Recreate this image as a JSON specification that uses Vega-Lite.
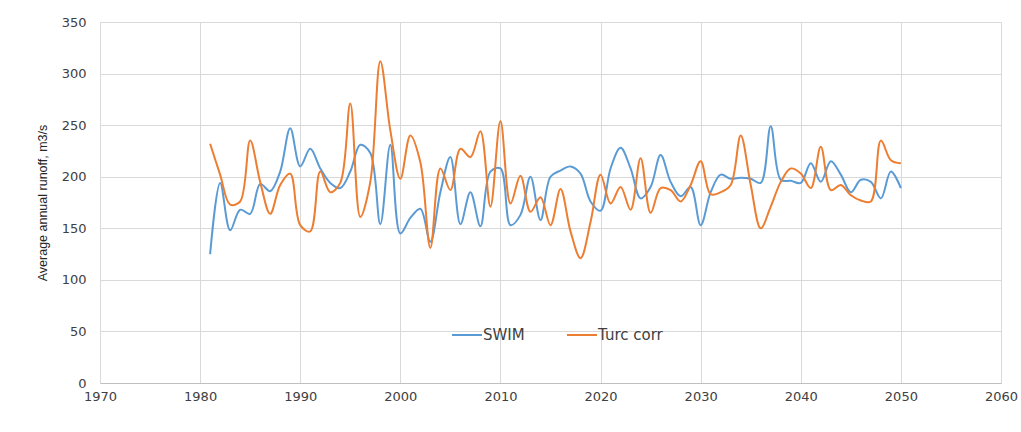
{
  "$schema": "https://vega.github.io/schema/vega-lite/v6.json",
  "width": 901,
  "height": 361,
  "autosize": {"type": "none"},
  "padding": {"left": 100, "top": 22, "right": 20, "bottom": 49},
  "background": "white",
  "config": {
    "view": {"stroke": null},
    "font": "DejaVu Sans"
  },
  "data": {
    "values": [
      {"year":1981,"series":"SWIM","value":125},{"year":1982,"series":"SWIM","value":194},{"year":1983,"series":"SWIM","value":148},{"year":1984,"series":"SWIM","value":168},{"year":1985,"series":"SWIM","value":164},{"year":1986,"series":"SWIM","value":193},{"year":1987,"series":"SWIM","value":186},{"year":1988,"series":"SWIM","value":205},{"year":1989,"series":"SWIM","value":247},{"year":1990,"series":"SWIM","value":210},
      {"year":1991,"series":"SWIM","value":227},{"year":1992,"series":"SWIM","value":208},{"year":1993,"series":"SWIM","value":194},{"year":1994,"series":"SWIM","value":189},{"year":1995,"series":"SWIM","value":205},{"year":1996,"series":"SWIM","value":231},{"year":1997,"series":"SWIM","value":223},{"year":1998,"series":"SWIM","value":154},{"year":1999,"series":"SWIM","value":231},{"year":2000,"series":"SWIM","value":145},
      {"year":2001,"series":"SWIM","value":160},{"year":2002,"series":"SWIM","value":169},{"year":2003,"series":"SWIM","value":137},{"year":2004,"series":"SWIM","value":185},{"year":2005,"series":"SWIM","value":219},{"year":2006,"series":"SWIM","value":154},{"year":2007,"series":"SWIM","value":185},{"year":2008,"series":"SWIM","value":152},{"year":2009,"series":"SWIM","value":205},{"year":2010,"series":"SWIM","value":208},
      {"year":2011,"series":"SWIM","value":153},{"year":2012,"series":"SWIM","value":163},{"year":2013,"series":"SWIM","value":200},{"year":2014,"series":"SWIM","value":158},{"year":2015,"series":"SWIM","value":200},{"year":2016,"series":"SWIM","value":206},{"year":2017,"series":"SWIM","value":210},{"year":2018,"series":"SWIM","value":203},{"year":2019,"series":"SWIM","value":176},{"year":2020,"series":"SWIM","value":167},
      {"year":2021,"series":"SWIM","value":208},{"year":2022,"series":"SWIM","value":228},{"year":2023,"series":"SWIM","value":208},{"year":2024,"series":"SWIM","value":179},{"year":2025,"series":"SWIM","value":190},{"year":2026,"series":"SWIM","value":221},{"year":2027,"series":"SWIM","value":195},{"year":2028,"series":"SWIM","value":181},{"year":2029,"series":"SWIM","value":190},{"year":2030,"series":"SWIM","value":153},
      {"year":2031,"series":"SWIM","value":185},{"year":2032,"series":"SWIM","value":202},{"year":2033,"series":"SWIM","value":198},{"year":2034,"series":"SWIM","value":199},{"year":2035,"series":"SWIM","value":198},{"year":2036,"series":"SWIM","value":194},{"year":2037,"series":"SWIM","value":249},{"year":2038,"series":"SWIM","value":197},{"year":2039,"series":"SWIM","value":196},{"year":2040,"series":"SWIM","value":194},
      {"year":2041,"series":"SWIM","value":213},{"year":2042,"series":"SWIM","value":195},{"year":2043,"series":"SWIM","value":215},{"year":2044,"series":"SWIM","value":202},{"year":2045,"series":"SWIM","value":185},{"year":2046,"series":"SWIM","value":197},{"year":2047,"series":"SWIM","value":195},{"year":2048,"series":"SWIM","value":179},{"year":2049,"series":"SWIM","value":205},{"year":2050,"series":"SWIM","value":189},
      {"year":1981,"series":"Turc corr","value":232},{"year":1982,"series":"Turc corr","value":202},{"year":1983,"series":"Turc corr","value":173},{"year":1984,"series":"Turc corr","value":176},{"year":1985,"series":"Turc corr","value":235},{"year":1986,"series":"Turc corr","value":195},{"year":1987,"series":"Turc corr","value":164},{"year":1988,"series":"Turc corr","value":192},{"year":1989,"series":"Turc corr","value":203},{"year":1990,"series":"Turc corr","value":153},
      {"year":1991,"series":"Turc corr","value":147},{"year":1992,"series":"Turc corr","value":205},{"year":1993,"series":"Turc corr","value":185},{"year":1994,"series":"Turc corr","value":194},{"year":1995,"series":"Turc corr","value":271},{"year":1996,"series":"Turc corr","value":161},{"year":1997,"series":"Turc corr","value":195},{"year":1998,"series":"Turc corr","value":312},{"year":1999,"series":"Turc corr","value":245},{"year":2000,"series":"Turc corr","value":198},
      {"year":2001,"series":"Turc corr","value":240},{"year":2002,"series":"Turc corr","value":214},{"year":2003,"series":"Turc corr","value":131},{"year":2004,"series":"Turc corr","value":208},{"year":2005,"series":"Turc corr","value":187},{"year":2006,"series":"Turc corr","value":227},{"year":2007,"series":"Turc corr","value":219},{"year":2008,"series":"Turc corr","value":244},{"year":2009,"series":"Turc corr","value":171},{"year":2010,"series":"Turc corr","value":254},
      {"year":2011,"series":"Turc corr","value":174},{"year":2012,"series":"Turc corr","value":201},{"year":2013,"series":"Turc corr","value":166},{"year":2014,"series":"Turc corr","value":180},{"year":2015,"series":"Turc corr","value":153},{"year":2016,"series":"Turc corr","value":188},{"year":2017,"series":"Turc corr","value":147},{"year":2018,"series":"Turc corr","value":121},{"year":2019,"series":"Turc corr","value":156},{"year":2020,"series":"Turc corr","value":202},
      {"year":2021,"series":"Turc corr","value":174},{"year":2022,"series":"Turc corr","value":190},{"year":2023,"series":"Turc corr","value":168},{"year":2024,"series":"Turc corr","value":218},{"year":2025,"series":"Turc corr","value":165},{"year":2026,"series":"Turc corr","value":189},{"year":2027,"series":"Turc corr","value":187},{"year":2028,"series":"Turc corr","value":176},{"year":2029,"series":"Turc corr","value":192},{"year":2030,"series":"Turc corr","value":215},
      {"year":2031,"series":"Turc corr","value":183},{"year":2032,"series":"Turc corr","value":185},{"year":2033,"series":"Turc corr","value":192},{"year":2034,"series":"Turc corr","value":240},{"year":2035,"series":"Turc corr","value":192},{"year":2036,"series":"Turc corr","value":150},{"year":2037,"series":"Turc corr","value":171},{"year":2038,"series":"Turc corr","value":195},{"year":2039,"series":"Turc corr","value":208},{"year":2040,"series":"Turc corr","value":203},
      {"year":2041,"series":"Turc corr","value":189},{"year":2042,"series":"Turc corr","value":229},{"year":2043,"series":"Turc corr","value":187},{"year":2044,"series":"Turc corr","value":192},{"year":2045,"series":"Turc corr","value":182},{"year":2046,"series":"Turc corr","value":177},{"year":2047,"series":"Turc corr","value":176},{"year":2048,"series":"Turc corr","value":235},{"year":2049,"series":"Turc corr","value":216},{"year":2050,"series":"Turc corr","value":213}
    ]
  },
  "mark": {"type": "line", "interpolate": "catmull-rom", "strokeWidth": 2},
  "encoding": {
    "x": {
      "field": "year", "type": "quantitative",
      "scale": {"domain": [1970, 2060], "nice": false, "zero": false},
      "axis": {
        "values": [1970,1980,1990,2000,2010,2020,2030,2040,2050,2060],
        "format": "d", "title": null,
        "grid": true, "gridColor": "#D9D9D9", "gridWidth": 1,
        "domainColor": "#BFBFBF", "ticks": false,
        "labelColor": "#404040", "labelFontSize": 13, "labelPadding": 7,
        "labelFlush": false
      }
    },
    "y": {
      "field": "value", "type": "quantitative",
      "scale": {"domain": [0, 350], "nice": false},
      "axis": {
        "values": [0,50,100,150,200,250,300,350],
        "title": "Average annual runoff, m3/s",
        "titleFont": "Liberation Sans",
        "titleFontWeight": "normal", "titleFontSize": 12.5, "titleColor": "#262626",
        "titlePadding": 12,
        "grid": true, "gridColor": "#D9D9D9", "gridWidth": 1,
        "domain": false, "ticks": false,
        "labelColor": "#404040", "labelFontSize": 13, "labelPadding": 14
      }
    },
    "color": {
      "field": "series", "type": "nominal",
      "scale": {"domain": ["SWIM", "Turc corr"], "range": ["#5B9BD5", "#ED7D31"]},
      "legend": {
        "title": null, "orient": "none", "direction": "horizontal",
        "legendX": 351, "legendY": 297,
        "symbolType": "stroke", "symbolSize": 900, "symbolStrokeWidth": 2,
        "labelFont": "DejaVu Sans", "labelFontSize": 15, "labelColor": "#404040", "labelOffset": 0,
        "columnPadding": 38
      }
    }
  }
}
